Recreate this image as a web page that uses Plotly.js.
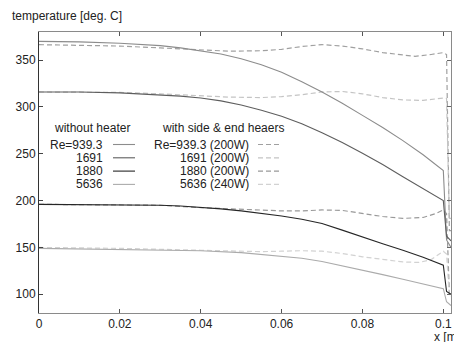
<!DOCTYPE html>
<html><head><meta charset="utf-8">
<script src="https://cdn.plot.ly/plotly-3.0.1.min.js"></script>
<style>body{margin:0;background:#fff}#c{width:454px;height:342px}</style>
</head><body><div id="c"></div>
<script>
// x positions [m]
const xSolid939 = [0,0.01,0.02,0.03,0.035,0.04,0.045,0.05,0.055,0.06,0.065,0.07,0.075,0.08,0.085,0.09,0.095,0.1,0.1008,0.1019];
const tSolid939 = [370,369.5,368,365.5,363,360,356.5,351.5,345,337,327,316,304,291,278,264,249,232,158,150];
const xSolid1691 = [0,0.01,0.02,0.03,0.035,0.04,0.045,0.05,0.055,0.06,0.065,0.07,0.075,0.08,0.085,0.09,0.095,0.1,0.1008,0.1019];
const tSolid1691 = [316,316,315,313,311.5,309.5,306.5,302,296.5,290,282,272.5,262,250.5,238.5,225.5,212.5,200,162,157];
const xSolid1880 = [0,0.02,0.03,0.035,0.04,0.045,0.05,0.055,0.06,0.065,0.07,0.075,0.08,0.085,0.09,0.095,0.1,0.1008,0.1019];
const tSolid1880 = [196,195.5,195,194.3,193,191.2,189,186.5,183.5,180,175.5,168.5,161,154,147,139.5,131,103,100];
const xSolid5636 = [0,0.02,0.03,0.04,0.05,0.06,0.065,0.07,0.075,0.08,0.085,0.09,0.095,0.1,0.1008,0.1019];
const tSolid5636 = [149,148,147.5,146.5,144.5,141,138.5,135,130.5,125.5,121,116,111,106,92,88];

const xDash939 = [0,0.01,0.02,0.03,0.04,0.047,0.055,0.06,0.065,0.07,0.075,0.08,0.085,0.09,0.093,0.097,0.1,0.1008,0.1015,0.1019];
const tDash939 = [366.5,366,365,363,361,359.5,360,361.5,364.5,366.5,365,362,358,355,354,356,358,356,168,168];
const xDash1691 = [0,0.02,0.03,0.04,0.047,0.055,0.06,0.065,0.07,0.075,0.08,0.085,0.09,0.095,0.1,0.1008,0.1015,0.1019];
const tDash1691 = [316,315.5,314,312,310.5,310,311,313,316,316.5,314,310,307.5,307,309.5,309,181,181];
const xDash1880 = [0,0.03,0.04,0.047,0.055,0.06,0.065,0.07,0.075,0.08,0.085,0.09,0.095,0.098,0.1,0.1008,0.1015,0.1019];
const tDash1880 = [196,195,192.5,191,189.5,189,189,190,189.5,186.5,183,181,182,186,190,186,100,99];
const xDash5636 = [0,0.02,0.04,0.047,0.055,0.06,0.065,0.07,0.075,0.08,0.085,0.09,0.094,0.097,0.1,0.1008,0.1015,0.1019];
const tDash5636 = [150,149,147,146,145.5,146,146.5,146,143.5,140,137,134.5,134,137,146,143,98,98];

const xTicks = [0,0.02,0.04,0.06,0.08,0.1];
const xTickText = ['0','0.02','0.04','0.06','0.08','0.1'];
const yTicks = [100,150,200,250,300,350];

const soloLabels = ['Re=939.3','1691','1880','5636'];
const heatLabels = ['Re=939.3 (200W)','1691 (200W)','1880 (200W)','5636 (240W)'];
const soloColors = ['#8c8c8c','#5e5e5e','#262626','#ababab'];
const heatColors = ['#a0a0a0','#c4c4c4','#999999','#d2d2d2'];
const DASH = '5px,3px';

const solids = [[xSolid939,tSolid939],[xSolid1691,tSolid1691],[xSolid1880,tSolid1880],[xSolid5636,tSolid5636]];
const dashes = [[xDash939,tDash939],[xDash1691,tDash1691],[xDash1880,tDash1880],[xDash5636,tDash5636]];

const traces = [];
dashes.forEach((d,i)=>traces.push({x:d[0],y:d[1],mode:'lines',type:'scatter',name:heatLabels[i],
  line:{color:heatColors[i],width:1.2,dash:DASH},showlegend:false,hoverinfo:'skip'}));
solids.forEach((d,i)=>traces.push({x:d[0],y:d[1],mode:'lines',type:'scatter',name:soloLabels[i],
  line:{color:soloColors[i],width:1.1},showlegend:false,hoverinfo:'skip'}));
// invisible trace for right mirrored axis
traces.push({x:[0],y:[200],yaxis:'y2',mode:'lines',showlegend:false,hoverinfo:'skip',line:{width:0}});

const F = {family:'Liberation Sans, Arial, sans-serif', size:12, color:'#222'};
const annotations = [
  {xref:'paper',yref:'paper',x:(432-39)/412,y:-(337-313)/281,xanchor:'left',yanchor:'middle',text:'x [m]',showarrow:false,font:F},
  {xref:'paper',yref:'paper',x:(92-39)/412,y:(313-128)/281,xanchor:'center',yanchor:'middle',text:'without heater',showarrow:false,font:F},
  {xref:'paper',yref:'paper',x:(160-39)/412,y:(313-128)/281,xanchor:'left',yanchor:'middle',text:'with side & end heaers',showarrow:false,font:F}
];
const shapes = [];
const rowY = [144.5,157.8,171.1,184.4];
rowY.forEach((py,i)=>{
  const yp = (313-py)/281;
  annotations.push({xref:'paper',yref:'paper',x:(105-39)/412,y:yp,xanchor:'right',yanchor:'middle',text:soloLabels[i],showarrow:false,font:F});
  annotations.push({xref:'paper',yref:'paper',x:(251-39)/412,y:yp,xanchor:'right',yanchor:'middle',text:heatLabels[i],showarrow:false,font:F});
  shapes.push({type:'line',xref:'paper',yref:'paper',x0:(113-39)/412,x1:(135-39)/412,y0:yp,y1:yp,line:{color:soloColors[i],width:1.1}});
  shapes.push({type:'line',xref:'paper',yref:'paper',x0:(258-39)/412,x1:(281-39)/412,y0:yp,y1:yp,line:{color:heatColors[i],width:1.2,dash:DASH}});
});

const layout = {
  width:454,height:342,
  margin:{l:39,r:3,t:32,b:29,pad:0},
  paper_bgcolor:'#fff',plot_bgcolor:'#fff',
  font:F,
  title:{text:'temperature [deg. C]',xref:'container',yref:'container',x:12/454,xanchor:'left',y:1-16/342,yanchor:'middle',font:F},
  xaxis:{range:[0,0.1019],tickvals:xTicks,ticktext:xTickText,ticks:'inside',ticklen:4,tickcolor:'#555',
    showline:true,linecolor:'#8a8a8a',linewidth:1,mirror:'ticks',showgrid:false,zeroline:false,tickfont:F},
  yaxis:{range:[80,380],tickvals:yTicks,ticks:'inside',ticklen:4,tickcolor:'#444',
    showline:true,linecolor:'#333',linewidth:1,showgrid:false,zeroline:false,tickfont:F},
  yaxis2:{overlaying:'y',side:'right',matches:'y',range:[80,380],tickvals:yTicks,ticks:'inside',ticklen:4,tickcolor:'#666',
    showline:true,linecolor:'#8a8a8a',linewidth:1,showticklabels:false,showgrid:false,zeroline:false},
  annotations:annotations,shapes:shapes,showlegend:false
};
Plotly.newPlot('c',traces,layout,{staticPlot:true,displayModeBar:false});
</script></body></html>
